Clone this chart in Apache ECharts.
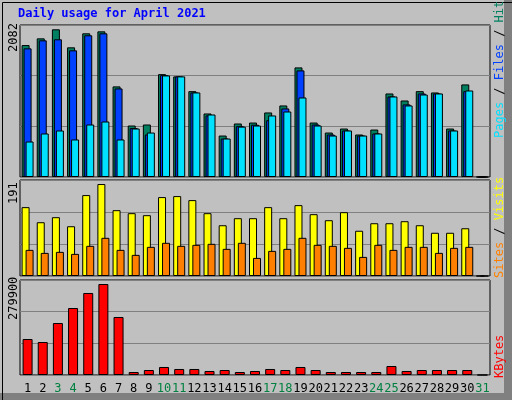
<!DOCTYPE html><html><head><meta charset="utf-8">
<script src="https://cdn.jsdelivr.net/npm/echarts@6/dist/echarts.min.js"></script>
<style>html,body{margin:0;padding:0;background:#c0c0c0}#c{width:512px;height:400px}</style></head><body><div id="c"></div>
<script>
const days = Array.from({length:31},(_,i)=>String(i+1));
const weekend = ['3','4','10','11','17','18','24','25','31'];
const hits  = [1807,1899,2023,1776,1968,1995,1241,705,719,1409,1378,1176,870,568,733,746,884,980,1501,746,609,664,582,650,1144,1048,1176,1158,664,1268,0];
const files = [1762,1872,1886,1735,1941,1968,1213,670,582,1396,1378,1158,843,527,696,716,778,939,1460,719,582,637,568,596,1103,994,1144,1144,637,1176,0];
const pages = [486,596,637,514,719,760,514,664,609,1391,1378,1158,856,527,690,705,843,897,1089,705,568,637,568,596,1103,980,1130,1144,637,1185,0];
const visits = [137,107,117,99,161,183,131,125,121,157,159,151,125,101,115,115,137,115,141,123,111,127,90,105,105,109,101,86,86,95,0];
const sites  = [52,46,48,44,60,76,52,42,58,66,60,62,64,54,66,36,50,54,76,62,60,56,38,62,52,58,58,46,56,58,0];
const kbytes = [106000,97200,153200,197400,241600,268100,170900,8800,14700,23600,17700,17700,11800,14700,8800,11800,17700,14700,23600,14700,8800,8800,8800,8800,26500,11800,14700,14700,14700,14700,0];
const maxLabels = [2082,191,279900];
const title = 'Daily usage for April 2021';

const F = 'DejaVu Sans Mono, monospace';
const ch = echarts.init(document.getElementById('c'));
const grids = [{left:20,right:22,top:25,height:152},{left:20,right:22,top:180,height:96},{left:20,right:22,top:280,height:95}];
const xa = grids.map((g,i)=>({gridIndex:i,type:'category',data:days,boundaryGap:true,
  axisLine:{show:false},axisTick:{show:false},
  axisLabel:i===2?{show:true,fontFamily:F,fontSize:12,color:'#000',margin:8,interval:0,
    formatter:v=>weekend.includes(v)?'{w|'+v+'}':v,rich:{w:{color:'#008040',fontFamily:F,fontSize:12}}}:{show:false}}));
const ya = maxLabels.map((m,i)=>({gridIndex:i,type:'value',min:0,max:m,interval:m/3,
  axisLabel:{show:false},axisLine:{show:false},axisTick:{show:false},
  splitLine:{lineStyle:{color:'#808080',width:1}}}));
const bs = (c)=>({color:c,borderColor:'#000',borderWidth:1});
ch.setOption({animation:false,backgroundColor:'#c0c0c0',
  grid:grids.map(g=>Object.assign({show:true,borderColor:'#000',borderWidth:1,backgroundColor:'transparent'},g)),
  xAxis:xa,yAxis:ya,
  series:[
    {type:'bar',xAxisIndex:0,yAxisIndex:0,data:hits,barWidth:8,barGap:'-75%',itemStyle:bs('#008060')},
    {type:'bar',xAxisIndex:0,yAxisIndex:0,data:files,barWidth:8,barGap:'-75%',itemStyle:bs('#0040ff')},
    {type:'bar',xAxisIndex:0,yAxisIndex:0,data:pages,barWidth:8,barGap:'-75%',itemStyle:bs('#00e0ff')},
    {type:'bar',xAxisIndex:1,yAxisIndex:1,data:visits,barWidth:8,barGap:'-50%',itemStyle:bs('#ffff00')},
    {type:'bar',xAxisIndex:1,yAxisIndex:1,data:sites,barWidth:8,barGap:'-50%',itemStyle:bs('#ff8000')},
    {type:'bar',xAxisIndex:2,yAxisIndex:2,data:kbytes,barWidth:10,itemStyle:bs('#ff0000')}
  ],
  graphic:[
    {type:'rect',left:504,top:0,shape:{width:8,height:400},style:{fill:'#808080'},z:-1},
    {type:'rect',left:0,top:393,shape:{width:512,height:7},style:{fill:'#808080'},z:-1},
    {type:'rect',left:0,top:0,shape:{width:511,height:399},style:{fill:'none',stroke:'#000',lineWidth:1}},
    {type:'text',left:18,top:8,style:{text:title,font:'bold 12px '+F,fill:'#0000ff'}},
    {type:'text',x:8,y:52,rotation:Math.PI/2,style:{text:String(maxLabels[0]),font:'12px '+F,fill:'#000'}},
    {type:'text',x:8,y:204,rotation:Math.PI/2,style:{text:String(maxLabels[1]),font:'12px '+F,fill:'#000'}},
    {type:'text',x:8,y:320,rotation:Math.PI/2,style:{text:String(maxLabels[2]),font:'12px '+F,fill:'#000'}},
    {type:'text',x:494,y:138,rotation:Math.PI/2,style:{text:'{a|Pages}{k| / }{b|Files}{k| / }{c|Hits}',font:'12px '+F,
      rich:{a:{fill:'#00e0ff',font:'12px '+F},b:{fill:'#0040ff',font:'12px '+F},c:{fill:'#008060',font:'12px '+F},k:{fill:'#000',font:'12px '+F}}}},
    {type:'text',x:494,y:278,rotation:Math.PI/2,style:{text:'{a|Sites}{k| / }{b|Visits}',font:'12px '+F,
      rich:{a:{fill:'#ff8000',font:'12px '+F},b:{fill:'#ffff00',font:'12px '+F},k:{fill:'#000',font:'12px '+F}}}},
    {type:'text',x:494,y:378,rotation:Math.PI/2,style:{text:'KBytes',font:'12px '+F,fill:'#ff0000'}}
  ]
});
</script></body></html>
